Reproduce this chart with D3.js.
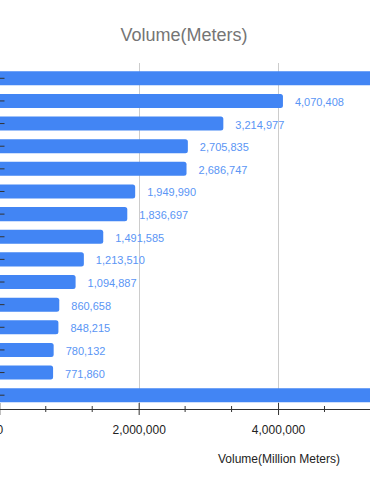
<!DOCTYPE html>
<html>
<head>
<meta charset="utf-8">
<script src="https://cdn.jsdelivr.net/npm/d3@7"></script>
<style>
    body { margin: 0; background: #fff; }
    svg { display: block; }
</style>
</head>
<body>
<div id="container"><svg></svg></div>
<script>
let width = 370;
let height = 490;
let fontFamily = "Liberation Sans, Arial, sans-serif";

// bars top to bottom (category names are cut off in the picture)
let categories = ['Item 1', 'Item 2', 'Item 3', 'Item 4', 'Item 5', 'Item 6', 'Item 7', 'Item 8',
                  'Item 9', 'Item 10', 'Item 11', 'Item 12', 'Item 13', 'Item 14', 'Item 15'];
let volumes = [6400000, 4070408, 3214977, 2705835, 2686747, 1949990, 1836697, 1491585,
               1213510, 1094887, 860658, 848215, 780132, 771860, 6000000];
let majorTicks = [0, 2000000, 4000000];
let minorTicks = [666667, 1333333, 2666667, 3333333, 4666667, 5333333];

let title = 'Volume(Meters)';
let x_title = 'Volume(Million Meters)';

function draw_main() {
    let data = categories.map((c, i) => ({cat: c, val: volumes[i]}));
    let svg = d3.select('#container').select('svg')
        .attr('width', width)
        .attr('height', height)
        .style('font-family', fontFamily);

    let top = 63, bottom = 409;

    let x = d3.scaleLinear()
        .domain([0, 6000000])
        .range([-0.7, 417.4]);
    let y = d3.scaleBand()
        .domain(categories)
        .range([64.5, 409])
        .paddingInner(0.38)
        .paddingOuter(0.3);

    // title
    svg.append('text')
        .attr('x', 184)
        .attr('y', 41)
        .attr('text-anchor', 'middle')
        .attr('font-size', 18)
        .attr('fill', '#757575')
        .text(title);

    // gridlines
    svg.append('g')
        .selectAll('line')
        .data(majorTicks.filter(d => d > 0))
        .enter().append('line')
        .attr('x1', d => Math.round(x(d)) + 0.5)
        .attr('x2', d => Math.round(x(d)) + 0.5)
        .attr('y1', top)
        .attr('y2', bottom)
        .attr('stroke', '#cccccc')
        .attr('stroke-width', 1);

    // bars, right end rounded
    let r = 2.5;
    svg.append('g')
        .selectAll('path')
        .data(data)
        .enter().append('path')
        .attr('fill', '#4285f4')
        .attr('d', d => {
            let x0 = x(0), x1 = x(d.val), y0 = y(d.cat), h = y.bandwidth();
            return `M${x0},${y0}H${x1 - r}Q${x1},${y0} ${x1},${y0 + r}V${y0 + h - r}Q${x1},${y0 + h} ${x1 - r},${y0 + h}H${x0}Z`;
        });

    // value labels (the ones past the right edge are not in view)
    svg.append('g')
        .selectAll('text')
        .data(data.filter(d => x(d.val) + 12 < width))
        .enter().append('text')
        .attr('x', d => x(d.val) + 12)
        .attr('y', d => y(d.cat) + y.bandwidth() / 2 + 1)
        .attr('dominant-baseline', 'central')
        .attr('font-size', 11)
        .attr('fill', '#5a95f5')
        .text(d => d3.format(',')(d.val));

    // y axis ticks (little dashes at the left edge)
    let axis_y = d3.axisLeft(y)
        .tickSizeInner(-5)
        .tickSizeOuter(0)
        .tickFormat('');
    let gy = svg.append('g')
        .attr('transform', `translate(${-0.5}, 0)`)
        .call(axis_y);
    gy.select('.domain').remove();
    gy.selectAll('line').attr('stroke', '#333');

    // x axis
    let axis_x = d3.axisBottom(x)
        .tickValues(majorTicks)
        .tickSizeInner(6)
        .tickSizeOuter(0)
        .tickPadding(10)
        .tickFormat(d3.format(','));
    let gx = svg.append('g')
        .attr('transform', `translate(0, ${bottom})`)
        .call(axis_x)
        .attr('font-family', fontFamily)
        .attr('font-size', 12);
    gx.select('.domain').attr('stroke', '#333');
    gx.selectAll('.tick line').attr('y1', -6).attr('stroke', '#333');
    gx.selectAll('.tick text').attr('fill', '#222');

    svg.append('g')
        .selectAll('line')
        .data(minorTicks)
        .enter().append('line')
        .attr('x1', d => x(d))
        .attr('x2', d => x(d))
        .attr('y1', bottom - 3)
        .attr('y2', bottom + 3)
        .attr('stroke', '#333');

    // x axis title
    svg.append('text')
        .attr('x', 279)
        .attr('y', 463)
        .attr('text-anchor', 'middle')
        .attr('font-size', 12)
        .attr('fill', '#222')
        .text(x_title);
}

draw_main();
</script>
</body>
</html>
